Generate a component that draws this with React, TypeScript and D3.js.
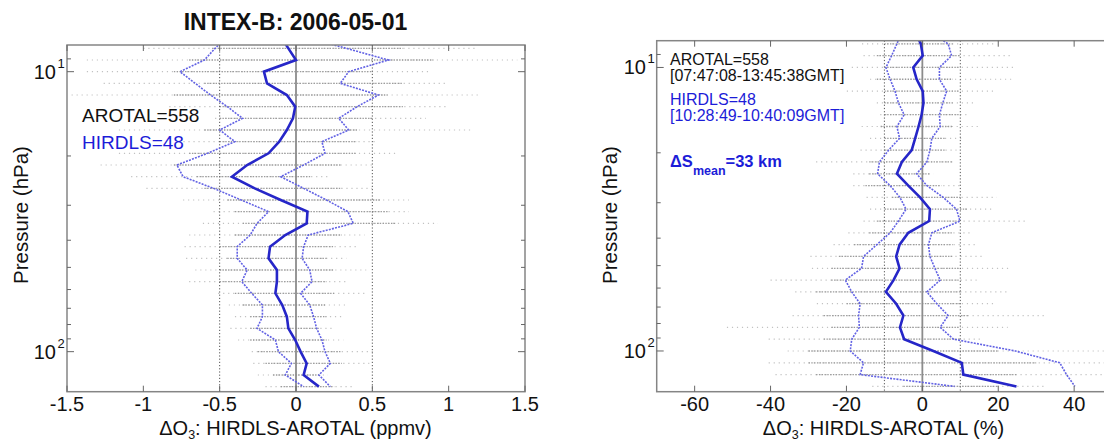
import React from 'react';
import * as d3 from 'd3';

// Pressure levels (hPa)
const PRESSURE = [7.499, 8.254, 9.085, 10, 11.007, 12.115, 13.335, 14.678, 16.156, 17.783, 19.573, 21.544, 23.714, 26.102, 28.73, 31.623, 34.807, 38.312, 42.17, 46.416, 51.09, 56.234, 61.897, 68.129, 74.989, 82.54, 90.852, 100, 110.07, 121.15, 133.35];

// Left panel: ppmv
const L_MEAN = [-0.10, -0.05, 0.00, -0.21, -0.19, -0.06, -0.005, -0.02, -0.06, -0.11, -0.18, -0.32, -0.42, -0.27, -0.10, 0.075, 0.07, -0.07, -0.17, -0.18, -0.125, -0.125, -0.135, -0.09, -0.06, -0.05, -0.005, 0.03, 0.07, 0.05, 0.15];
const L_LOW = [-0.45, -0.53, -0.60, -0.76, -0.66, -0.56, -0.45, -0.35, -0.50, -0.40, -0.58, -0.78, -0.74, -0.54, -0.36, -0.18, -0.255, -0.30, -0.385, -0.385, -0.32, -0.355, -0.29, -0.22, -0.22, -0.255, -0.135, -0.115, -0.03, -0.07, 0.05];
const L_HIGH = [0.05, 0.33, 0.605, 0.345, 0.29, 0.54, 0.40, 0.28, 0.345, 0.17, 0.19, 0.05, -0.10, 0.05, 0.20, 0.34, 0.375, 0.08, 0.05, 0.04, 0.09, 0.105, 0.03, 0.09, 0.115, 0.135, 0.17, 0.19, 0.225, 0.15, 0.225];
const L_SPREAD_LO = [-0.9, -1.0, -1.37, -1.37, -1.26, -1.47, -0.83, -0.53, -1.16, -0.77, -1.16, -1.28, -1.08, -0.98, -0.74, -0.54, -0.61, -0.7, -0.73, -0.72, -0.66, -0.7, -0.51, -0.44, -0.4, -0.43, -0.38, -0.29, -0.28, -0.25, -0.2];
const L_SPREAD_HI = [1.1, 1.17, 1.45, 0.87, 0.99, 1.2, 0.99, 0.85, 1.15, 0.54, 0.66, 0.5, 0.23, 0.5, 0.74, 0.74, 0.93, 0.45, 0.41, 0.33, 0.46, 0.34, 0.47, 0.34, 0.32, 0.24, 0.31, 0.52, 0.48, 0.21, 0.37];
const L_CORE_LO = [-0.6, -0.55, -0.7, -0.8, -0.6, -0.8, -0.5, -0.5, -0.6, -0.5, -0.7, -0.8, -0.65, -0.6, -0.45, -0.4, -0.35, -0.4, -0.5, -0.45, -0.5, -0.5, -0.4, -0.35, -0.3, -0.3, -0.3, -0.25, -0.2, -0.15, -0.1];
const L_CORE_HI = [0.6, 0.7, 0.9, 0.5, 0.7, 0.6, 0.7, 0.5, 0.4, 0.4, 0.4, 0.3, 0.1, 0.3, 0.55, 0.6, 0.65, 0.3, 0.25, 0.2, 0.25, 0.2, 0.25, 0.2, 0.2, 0.15, 0.2, 0.3, 0.3, 0.15, 0.25];
const L_XTICKS = [-1.5, -1, -0.5, 0, 0.5, 1, 1.5];
const L_GRID = [-0.5, 0.5];

// Right panel: %
const R_MEAN = [-1.9, -0.4, 0.1, -2.4, -1.5, 0.1, 0.3, -0.2, -1.0, -1.9, -2.8, -5.4, -6.7, -3.7, -0.6, 2.0, 1.8, -3.7, -6.0, -6.9, -6.0, -7.6, -9.6, -6.9, -5.0, -5.9, -4.8, 2.9, 10.4, 10.8, 24.8];
const R_LOW = [-5.5, -6.7, -8.1, -9.6, -8.5, -7.2, -6.3, -4.8, -6.7, -6.0, -8.9, -11.3, -11.8, -8.5, -5.9, -4.3, -6.3, -8.5, -12.0, -15.5, -16.0, -20.3, -18.6, -16.4, -16.8, -16.6, -18.6, -19.0, -15.5, -16.4, 8.5];
const R_HIGH = [2.0, 6.8, 7.7, 4.5, 4.5, 6.4, 5.4, 4.5, 4.7, 2.5, 2.0, 1.2, -1.5, 1.2, 5.5, 9.0, 9.9, 2.5, 1.6, 2.0, 3.3, 4.7, 1.2, 3.8, 6.8, 4.7, 8.2, 24.5, 36.2, 38.0, 40.2];
const R_SPREAD_LO = [-12, -15.9, -15.5, -18.6, -13.8, -19.9, -12, -11.1, -16, -13.8, -16.3, -28, -18.2, -18.2, -14.7, -13.8, -15.5, -19.5, -23.4, -29.5, -29.1, -40, -33.5, -27.8, -34.2, -51.5, -40.5, -35.5, -40.5, -38.7, -13.2];
const R_SPREAD_HI = [10, 19.7, 23.9, 23.9, 23.9, 18.7, 13.4, 12.6, 15.2, 10.4, 9, 8.1, 2.9, 9.9, 19.6, 18.7, 27.9, 13.4, 13.8, 16.5, 22.6, 14.3, 22.2, 18.7, 32.6, 22.5, 16, 48, 50, 48, 32.5];
const R_CORE_LO = [-8, -10, -12, -10, -12, -10, -10, -10, -11, -10, -10, -14, -14, -15, -8, -10, -12, -14, -18, -22, -24, -24, -28, -20, -26, -24, -26, -30, -30, -28, -5];
const R_CORE_HI = [6, 8, 10, 10, 8, 10, 8, 10, 8, 6, 6, 8, 2, 5, 10, 12, 10, 8, 8, 8, 10, 10, 10, 10, 12, 10, 10, 20, 30, 25, 20];
const R_XTICKS = [-60, -40, -20, 0, 20, 40];
const R_GRID = [-10, 10];

const Y_MAJOR = [10, 100];
const Y_MINOR = [9, 20, 30, 40, 50, 60, 70, 80, 90];

const FONT = 'Liberation Sans, Arial, Helvetica, sans-serif';
const BLUE_TEXT = '#1c1cd8';
const MEAN_COLOR = '#2626c8';
const SD_COLOR = '#6262e4';

type PanelProps = {
  id: string;
  xDomain: [number, number];
  xRange: [number, number];
  yDomain: [number, number];
  yRange: [number, number];
  mean: number[];
  low: number[];
  high: number[];
  sLo: number[];
  sHi: number[];
  cLo: number[];
  cHi: number[];
  xticks: number[];
  grid: number[];
  tickLabelX: number;
};

function Panel(p: PanelProps) {
  const x = d3.scaleLinear().domain(p.xDomain).range(p.xRange);
  const y = d3.scaleLog().domain(p.yDomain).range(p.yRange);
  const [x0, x1] = p.xRange;
  const [y0, y1] = p.yRange;
  const line = (vals: number[]) =>
    d3.line<number>().x((v) => x(v)).y((_, i) => y(PRESSURE[i]))(vals) || '';
  const clip = `clip-${p.id}`;
  return (
    <g>
      <defs>
        <clipPath id={clip}>
          <rect x={x0} y={y0} width={x1 - x0} height={y1 - y0} />
        </clipPath>
      </defs>
      <g clipPath={`url(#${clip})`}>
        {PRESSURE.map((pr, i) => (
          <g key={i}>
            <line x1={x(p.sLo[i])} x2={x(p.sHi[i])} y1={y(pr)} y2={y(pr)} stroke="#c2c2c2" strokeWidth={1.2} strokeDasharray="1.2 3.8" />
            <line x1={x(p.cLo[i])} x2={x(p.cHi[i])} y1={y(pr)} y2={y(pr)} stroke="#9c9c9c" strokeWidth={1.3} strokeDasharray="1.4 1.4" />
          </g>
        ))}
        {p.grid.map((g) => (
          <line key={g} x1={x(g)} x2={x(g)} y1={y0} y2={y1} stroke="#555" strokeWidth={1} strokeDasharray="1.2 2" />
        ))}
        <line x1={x(0)} x2={x(0)} y1={y0} y2={y1} stroke="#8c8c8c" strokeWidth={1.8} />
        <path d={line(p.low)} fill="none" stroke={SD_COLOR} strokeWidth={1.6} strokeDasharray="2 1.2" />
        <path d={line(p.high)} fill="none" stroke={SD_COLOR} strokeWidth={1.6} strokeDasharray="2 1.2" />
        <path d={line(p.mean)} fill="none" stroke={MEAN_COLOR} strokeWidth={2.6} />
      </g>
      <rect x={x0} y={y0} width={x1 - x0} height={y1 - y0} fill="none" stroke="#858585" strokeWidth={1.5} />
      {p.xticks.map((t) => (
        <g key={t}>
          <line x1={x(t)} x2={x(t)} y1={y1} y2={y1 - 6} stroke="#666" strokeWidth={1} />
          <line x1={x(t)} x2={x(t)} y1={y0} y2={y0 + 6} stroke="#666" strokeWidth={1} />
          <text x={x(t)} y={411} textAnchor="middle" fontFamily={FONT} fontSize={20} fill="#111">
            {String(t)}
          </text>
        </g>
      ))}
      {Y_MINOR.map((t) => (
        <g key={t}>
          <line x1={x0} x2={x0 + 4} y1={y(t)} y2={y(t)} stroke="#666" strokeWidth={1} />
          <line x1={x1} x2={x1 - 4} y1={y(t)} y2={y(t)} stroke="#666" strokeWidth={1} />
        </g>
      ))}
      {Y_MAJOR.map((t) => (
        <g key={t}>
          <line x1={x0} x2={x0 + 7} y1={y(t)} y2={y(t)} stroke="#666" strokeWidth={1} />
          <line x1={x1} x2={x1 - 7} y1={y(t)} y2={y(t)} stroke="#666" strokeWidth={1} />
          <text x={p.tickLabelX} y={y(t) + 7} textAnchor="end" fontFamily={FONT} fontSize={20} fill="#111">10</text>
          <text x={p.tickLabelX + 1.5} y={y(t) - 4} fontFamily={FONT} fontSize={13} fill="#111">{String(Math.round(Math.log10(t)))}</text>
        </g>
      ))}
    </g>
  );
}

export default function App() {
  return (
    <svg width={1104} height={442} style={{ position: 'absolute', left: 0, top: 0, background: '#fff' }}>
      <rect x={0} y={0} width={1104} height={442} fill="#fff" />
      <text x={295.5} y={30} textAnchor="middle" fontFamily={FONT} fontSize={23} fontWeight="bold" fill="#111">
        INTEX-B: 2006-05-01
      </text>
      <Panel
        id="left"
        xDomain={[-1.5, 1.5]}
        xRange={[67, 525]}
        yDomain={[8.03, 139]}
        yRange={[45, 391.7]}
        mean={L_MEAN}
        low={L_LOW}
        high={L_HIGH}
        sLo={L_SPREAD_LO}
        sHi={L_SPREAD_HI}
        cLo={L_CORE_LO}
        cHi={L_CORE_HI}
        xticks={L_XTICKS}
        grid={L_GRID}
        tickLabelX={56}
      />
      <Panel
        id="right"
        xDomain={[-70, 70]}
        xRange={[656.7, 1188]}
        yDomain={[8.047, 139.2]}
        yRange={[40.7, 391.7]}
        mean={R_MEAN}
        low={R_LOW}
        high={R_HIGH}
        sLo={R_SPREAD_LO}
        sHi={R_SPREAD_HI}
        cLo={R_CORE_LO}
        cHi={R_CORE_HI}
        xticks={R_XTICKS}
        grid={R_GRID}
        tickLabelX={646}
      />
      {/* Axis labels */}
      <text transform="translate(28,215) rotate(-90)" textAnchor="middle" fontFamily={FONT} fontSize={20.5} fill="#111">
        Pressure (hPa)
      </text>
      <text transform="translate(617,215) rotate(-90)" textAnchor="middle" fontFamily={FONT} fontSize={20.5} fill="#111">
        Pressure (hPa)
      </text>
      <text x={295.5} y={435} textAnchor="middle" fontFamily={FONT} fontSize={20} fill="#111">
        ΔO<tspan dy={4} fontSize={12.5}>3</tspan><tspan dy={-4}>: HIRDLS-AROTAL (ppmv)</tspan>
      </text>
      <text x={883.5} y={435} textAnchor="middle" fontFamily={FONT} fontSize={20} fill="#111">
        ΔO<tspan dy={4} fontSize={12.5}>3</tspan><tspan dy={-4}>: HIRDLS-AROTAL (%)</tspan>
      </text>
      {/* Left annotations */}
      <text x={82} y={122} fontFamily={FONT} fontSize={19} fill="#111">AROTAL=558</text>
      <text x={82} y={149} fontFamily={FONT} fontSize={19} fill={BLUE_TEXT}>HIRDLS=48</text>
      {/* Right annotations */}
      <text x={670} y={65} fontFamily={FONT} fontSize={16} fill="#111">AROTAL=558</text>
      <text x={670} y={81} fontFamily={FONT} fontSize={16} fill="#111">[07:47:08-13:45:38GMT]</text>
      <text x={670} y={105} fontFamily={FONT} fontSize={16} fill={BLUE_TEXT}>HIRDLS=48</text>
      <text x={670} y={121} fontFamily={FONT} fontSize={16} fill={BLUE_TEXT}>[10:28:49-10:40:09GMT]</text>
      <text x={670} y={166.5} fontFamily={FONT} fontSize={16.5} fontWeight="bold" fill={BLUE_TEXT}>
        ΔS<tspan dy={8} fontSize={12.5}>mean</tspan><tspan dy={-8}>=33 km</tspan>
      </text>
    </svg>
  );
}
